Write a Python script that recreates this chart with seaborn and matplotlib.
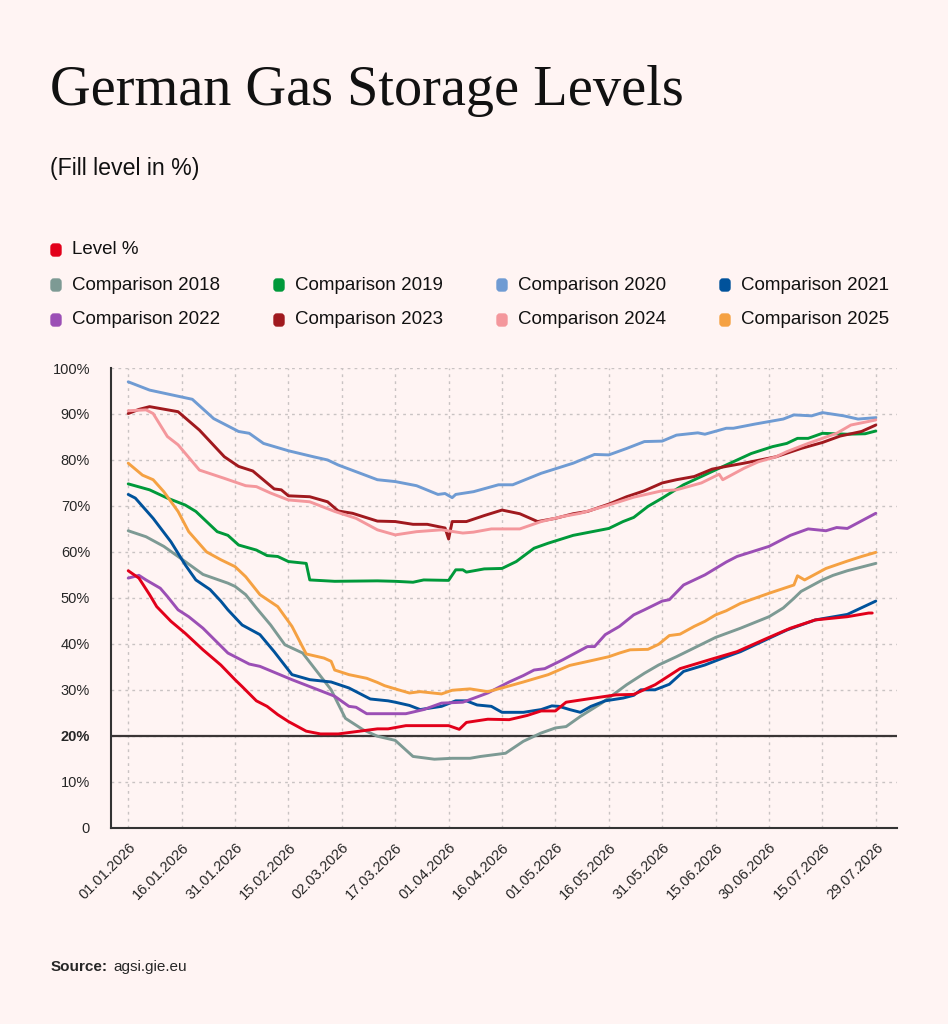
import numpy as np
import pandas as pd
import matplotlib.pyplot as plt
import matplotlib.patches as mpatches
import seaborn as sns

BG = "#fff4f3"
sns.set_style("white", {"axes.facecolor": BG, "figure.facecolor": BG})
plt.rcParams["font.family"] = ["Liberation Sans", "DejaVu Sans"]

# days since 01.01.2026 and fill level in %
level_days = [0, 3, 6, 8, 12, 16, 21, 26, 30, 32, 36, 39, 42, 45, 50, 54, 59, 62, 65, 70, 73, 78, 83, 90,
              93, 95, 101, 107, 112, 116, 120, 123, 129, 137, 142, 148, 155, 164, 171, 180, 186, 193, 202, 208, 209]
level_vals = [55.9, 54.3, 50.7, 48.1, 44.9, 42.3, 38.7, 35.4, 32.2, 30.7, 27.6, 26.4, 24.6, 23.1, 21.0, 20.4,
              20.4, 20.7, 21.0, 21.5, 21.5, 22.2, 22.2, 22.2, 21.4, 22.9, 23.6, 23.5, 24.4, 25.4, 25.4, 27.3,
              28.0, 28.9, 29.0, 31.1, 34.6, 36.7, 38.3, 41.4, 43.4, 45.2, 45.9, 46.7, 46.7]

c2018_days = [0, 5, 10, 16, 21, 28, 30, 33, 36, 40, 44, 49, 53, 57, 61, 66, 70, 75, 80, 86, 91, 96, 99, 106,
              111, 116, 120, 123, 127, 133, 140, 145, 149, 154, 165, 172, 180, 184, 187, 189, 195, 198, 202, 210]
c2018_vals = [64.6, 63.3, 61.2, 57.9, 55.1, 53.2, 52.5, 50.7, 47.8, 44.1, 39.8, 38.0, 34.0, 30.0, 23.8, 21.3,
              19.9, 19.0, 15.5, 14.9, 15.1, 15.1, 15.5, 16.2, 18.8, 20.6, 21.7, 22.0, 24.2, 27.1, 31.1, 33.6,
              35.4, 37.2, 41.4, 43.4, 45.9, 47.8, 49.9, 51.4, 53.9, 54.9, 55.9, 57.5]

c2019_days = [0, 6, 11, 16, 19, 25, 28, 31, 36, 39, 42, 45, 50, 51, 58, 70, 75, 80, 83, 90, 92, 94, 95, 100,
              105, 109, 114, 118, 125, 135, 139, 142, 146, 150, 156, 166, 175, 181, 185, 188, 191, 195, 202, 207, 210]
c2019_vals = [74.8, 73.5, 71.7, 70.2, 68.8, 64.4, 63.6, 61.5, 60.4, 59.2, 59.0, 57.9, 57.5, 53.9, 53.6, 53.7,
              53.6, 53.4, 53.9, 53.8, 56.1, 56.1, 55.6, 56.3, 56.4, 57.9, 60.8, 61.9, 63.6, 65.1, 66.6, 67.5,
              69.9, 71.7, 74.6, 78.2, 81.4, 82.9, 83.6, 84.7, 84.7, 85.8, 85.6, 85.7, 86.3]

c2020_days = [0, 6, 18, 24, 31, 34, 38, 45, 52, 56, 59, 70, 75, 81, 87, 89, 91, 92, 97, 104, 108, 116, 125,
              131, 135, 140, 145, 150, 154, 160, 162, 168, 170, 176, 184, 187, 192, 195, 201, 205, 210]
c2020_vals = [97.0, 95.2, 93.2, 89.0, 86.2, 85.8, 83.6, 82.0, 80.7, 80.0, 78.9, 75.7, 75.3, 74.4, 72.5, 72.7,
              71.8, 72.5, 73.1, 74.6, 74.6, 77.1, 79.3, 81.2, 81.1, 82.5, 84.0, 84.1, 85.4, 85.9, 85.6, 86.9,
              86.9, 87.8, 88.9, 89.8, 89.6, 90.3, 89.6, 88.9, 89.2]

c2021_days = [0, 2, 7, 12, 16, 19, 23, 26, 28, 32, 37, 41, 46, 51, 57, 62, 68, 73, 75, 79, 82, 88, 92, 95, 98,
              102, 105, 111, 116, 119, 121, 124, 127, 130, 134, 139, 142, 144, 148, 152, 156, 162, 167, 172,
              180, 185, 193, 202, 210]
c2021_vals = [72.5, 71.7, 67.3, 62.2, 57.2, 53.9, 51.8, 49.3, 47.4, 44.1, 42.0, 38.3, 33.3, 32.2, 31.7, 30.4,
              28.0, 27.6, 27.3, 26.6, 25.7, 26.4, 27.6, 27.6, 26.7, 26.4, 25.1, 25.1, 25.7, 26.5, 26.4, 25.7,
              25.1, 26.4, 27.6, 28.2, 28.8, 30.0, 30.0, 31.2, 34.0, 35.4, 36.9, 38.3, 41.2, 43.0, 45.2, 46.4, 49.3]

c2022_days = [0, 3, 5, 9, 11, 14, 17, 21, 28, 30, 34, 37, 46, 51, 58, 62, 64, 67, 78, 83, 88, 94, 101, 107,
              111, 114, 117, 122, 129, 131, 134, 138, 142, 145, 150, 152, 156, 162, 168, 171, 180, 186, 191,
              196, 199, 202, 210]
c2022_vals = [54.3, 54.9, 53.9, 52.1, 50.3, 47.4, 45.9, 43.4, 38.0, 37.2, 35.6, 35.1, 32.2, 30.7, 28.6, 26.4,
              26.2, 24.8, 24.8, 25.7, 27.1, 27.3, 29.3, 31.7, 33.1, 34.3, 34.6, 36.5, 39.4, 39.4, 42.0, 43.8,
              46.3, 47.4, 49.3, 49.6, 52.8, 55.0, 57.8, 59.0, 61.2, 63.6, 65.0, 64.6, 65.3, 65.1, 68.4]

c2023_days = [0, 3, 6, 14, 20, 27, 31, 35, 41, 43, 45, 51, 56, 59, 63, 70, 75, 80, 84, 89, 90, 91, 95, 100,
              105, 110, 115, 120, 125, 129, 135, 140, 145, 150, 154, 159, 164, 168, 173, 182, 189, 195, 200, 206, 210]
c2023_vals = [90.1, 91.0, 91.6, 90.5, 86.5, 80.7, 78.6, 77.6, 73.7, 73.5, 72.2, 72.0, 70.9, 68.9, 68.4, 66.7,
              66.6, 66.0, 66.0, 65.2, 62.8, 66.6, 66.6, 67.9, 69.1, 68.3, 66.6, 67.3, 68.3, 68.8, 70.4, 72.0,
              73.3, 75.0, 75.7, 76.4, 78.0, 78.6, 79.3, 80.7, 82.5, 83.8, 85.2, 86.2, 87.6]

c2024_days = [0, 5, 7, 11, 14, 20, 27, 33, 36, 40, 45, 51, 58, 64, 70, 75, 81, 88, 94, 97, 102, 110, 116, 122,
              127, 135, 142, 150, 154, 161, 166, 167, 173, 177, 182, 185, 191, 199, 203, 210]
c2024_vals = [90.7, 90.9, 90.1, 85.1, 83.3, 77.8, 76.0, 74.4, 74.2, 72.8, 71.3, 70.9, 68.8, 67.3, 64.8, 63.7,
              64.4, 64.8, 64.1, 64.3, 65.0, 65.0, 66.6, 67.7, 68.4, 70.2, 71.9, 73.3, 73.5, 75.0, 76.9, 75.7,
              78.2, 79.6, 80.7, 81.8, 83.6, 85.8, 87.6, 88.7]

c2025_days = [0, 4, 7, 10, 14, 17, 22, 26, 30, 33, 37, 42, 46, 50, 55, 57, 58, 62, 67, 70, 72, 75, 79, 82, 88,
              91, 96, 101, 105, 111, 118, 124, 131, 135, 138, 141, 146, 149, 152, 155, 159, 162, 165, 168, 172,
              180, 187, 188, 190, 196, 202, 206, 210]
c2025_vals = [79.3, 76.7, 75.7, 73.1, 68.8, 64.4, 60.0, 58.3, 56.8, 54.6, 50.7, 48.1, 43.8, 37.8, 36.9, 36.2,
              34.3, 33.3, 32.5, 31.6, 30.9, 30.2, 29.3, 29.6, 29.1, 29.9, 30.2, 29.6, 30.4, 31.7, 33.3, 35.3,
              36.5, 37.2, 38.0, 38.7, 38.8, 39.9, 41.8, 42.1, 43.8, 44.9, 46.3, 47.2, 48.8, 51.0, 52.8, 54.8,
              53.9, 56.4, 58.0, 59.0, 59.9]

tick_labels = ["01.01.2026", "16.01.2026", "31.01.2026", "15.02.2026", "02.03.2026", "17.03.2026",
               "01.04.2026", "16.04.2026", "01.05.2026", "16.05.2026", "31.05.2026", "15.06.2026",
               "30.06.2026", "15.07.2026", "29.07.2026"]

series = {
    "Level %": (level_days, level_vals),
    "Comparison 2018": (c2018_days, c2018_vals),
    "Comparison 2019": (c2019_days, c2019_vals),
    "Comparison 2020": (c2020_days, c2020_vals),
    "Comparison 2021": (c2021_days, c2021_vals),
    "Comparison 2022": (c2022_days, c2022_vals),
    "Comparison 2023": (c2023_days, c2023_vals),
    "Comparison 2024": (c2024_days, c2024_vals),
    "Comparison 2025": (c2025_days, c2025_vals),
}
colors = {
    "Level %": "#e2001a",
    "Comparison 2018": "#7d9a94",
    "Comparison 2019": "#00993a",
    "Comparison 2020": "#6f9bd3",
    "Comparison 2021": "#00529b",
    "Comparison 2022": "#9b4fb5",
    "Comparison 2023": "#a0191e",
    "Comparison 2024": "#f4979c",
    "Comparison 2025": "#f5a142",
}

df = pd.concat([pd.DataFrame({"day": d, "value": v, "series": name})
                for name, (d, v) in series.items()], ignore_index=True)

fig = plt.figure(figsize=(9.48, 10.24), dpi=100)
ax = fig.add_axes([0.117, 0.1917, 0.829, 0.4489])

# grid first, so lines sit on top
for y in range(10, 101, 10):
    ax.axhline(y, color="#c9c3c3", lw=1, ls=(0, (2, 3)), zorder=0)
for i in range(len(tick_labels)):
    ax.axvline(i * 15, color="#c9c3c3", lw=1, ls=(0, (2, 3)), zorder=0)
ax.axhline(20, color="#3a3535", lw=1.6, zorder=1)

order = [k for k in series if k != "Level %"] + ["Level %"]
sns.lineplot(data=df, x="day", y="value", hue="series", hue_order=order, palette=colors,
             estimator=None, linewidth=2.1, legend=False, ax=ax, zorder=3)

ax.set_xlim(-4.86, 215.9)
ax.set_ylim(0, 100)
ax.set_xlabel("")
ax.set_ylabel("")
ax.set_xticks([i * 15 for i in range(len(tick_labels))])
ax.set_xticklabels(tick_labels, rotation=45, ha="right", rotation_mode="anchor", fontsize=10.5)
ax.set_yticks(range(0, 101, 10))
ax.set_yticklabels(["0"] + [f"{v}%" for v in range(10, 101, 10)], fontsize=10.5)
for lab in ax.get_yticklabels():
    if lab.get_text() == "20%":
        lab.set_fontweight("bold")
ax.tick_params(axis="x", length=6, width=1.2, color="#333333", pad=3)
ax.tick_params(axis="y", length=0, pad=15)
for s in ["top", "right"]:
    ax.spines[s].set_visible(False)
for s in ["left", "bottom"]:
    ax.spines[s].set_color("#333333")
    ax.spines[s].set_linewidth(1.5)

W, H = 948, 1024
fig.text(50 / W, 1 - 105 / H, "German Gas Storage Levels", family="Liberation Serif",
         fontsize=40.6, va="baseline", color="#111111")
fig.text(50 / W, 1 - 168 / H, "(Fill level in %)", fontsize=16.7, va="center", color="#111111")

legend_pos = [(0, 250)] + [(c, 285) for c in range(4)] + [(c, 320) for c in range(4)]
for (col, ly), name in zip(legend_pos, series):
    mx = 51 + col * 223
    fig.patches.append(mpatches.FancyBboxPatch(((mx) / W, 1 - (ly + 6) / H), 10 / W, 12 / H,
                                               boxstyle="round,pad=0,rounding_size=0.003",
                                               transform=fig.transFigure, color=colors[name]))
    fig.text((mx + 21) / W, 1 - ly / H, name, fontsize=13.5, va="center", color="#111111")

fig.text(51 / W, 1 - 967 / H, "Source:", fontsize=11, fontweight="bold", va="center")
fig.text(113 / W, 1 - 967 / H, "agsi.gie.eu", fontsize=11, va="center")

fig.savefig("out.png", dpi=100, facecolor=BG)
